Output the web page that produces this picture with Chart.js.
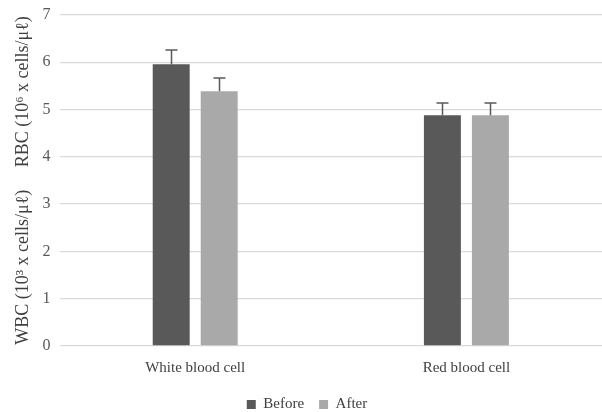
<!DOCTYPE html>
<html>
<head>
<meta charset="utf-8">
<script src="https://cdn.jsdelivr.net/npm/chart.js@4"></script>
<style>
  html, body { margin: 0; padding: 0; background: #fff; }
  #wrap { width: 602px; height: 412px; }
</style>
</head>
<body>
<div id="wrap"><canvas id="c" width="602" height="412"></canvas></div>
<script>
const categories = ['White blood cell', 'Red blood cell'];
const beforeValues = [5.96, 4.88];
const afterValues = [5.39, 4.88];
const beforeErrors = [0.3, 0.26];
const afterErrors = [0.28, 0.26];
const yTicks = [0, 1, 2, 3, 4, 5, 6, 7];

const serif = '"Liberation Serif", "Times New Roman", serif';

// draws the upper error whiskers on each bar
const errorBars = {
  id: 'errorBars',
  afterDatasetsDraw(chart) {
    const ctx = chart.ctx;
    const y = chart.scales.y;
    ctx.save();
    ctx.strokeStyle = '#595959';
    ctx.lineWidth = 1.5;
    chart.data.datasets.forEach((ds, di) => {
      const meta = chart.getDatasetMeta(di);
      meta.data.forEach((bar, i) => {
        const top = y.getPixelForValue(ds.data[i] + ds.errors[i]);
        const x = Math.round(bar.x) + 0.5;
        ctx.beginPath();
        ctx.moveTo(x, bar.y);
        ctx.lineTo(x, top);
        ctx.moveTo(x - 6, top);
        ctx.lineTo(x + 6, top);
        ctx.stroke();
      });
    });
    ctx.restore();
  }
};

new Chart(document.getElementById('c'), {
  type: 'bar',
  data: {
    labels: categories,
    datasets: [
      { label: 'Before', data: beforeValues, errors: beforeErrors, backgroundColor: '#595959',
        categoryPercentage: 0.354, barPercentage: 0.77 },
      { label: 'After', data: afterValues, errors: afterErrors, backgroundColor: '#a9a9a9',
        categoryPercentage: 0.354, barPercentage: 0.77 }
    ]
  },
  options: {
    responsive: false,
    animation: false,
    layout: { padding: { left: 12, right: 0, top: 15, bottom: -10 } },
    plugins: {
      legend: {
        position: 'bottom',
        labels: {
          boxWidth: 9, boxHeight: 9, padding: 15,
          color: '#404040',
          font: { family: serif, size: 15 }
        }
      },
      tooltip: { enabled: false }
    },
    scales: {
      x: {
        grid: { display: false },
        border: { display: false },
        ticks: { color: '#404040', font: { family: serif, size: 15 }, padding: 5 }
      },
      y: {
        min: 0, max: 7,
        afterBuildTicks: (axis) => { axis.ticks = yTicks.map(v => ({ value: v })); },
        afterFit: (axis) => { axis.paddingTop = 0; axis.paddingBottom = 0; },
        grid: { color: '#d9d9d9', lineWidth: 1.3, drawTicks: false },
        border: { display: false },
        ticks: { color: '#595959', font: { family: serif, size: 16 }, padding: 9 },
        title: {
          display: true,
          text: 'WBC (10³ x cells/μℓ)     RBC (10⁶ x cells/μℓ)',
          color: '#404040',
          font: { family: serif, size: 18 },
          padding: { top: 0, bottom: 0 }
        }
      }
    }
  },
  plugins: [errorBars]
});
</script>
</body>
</html>
